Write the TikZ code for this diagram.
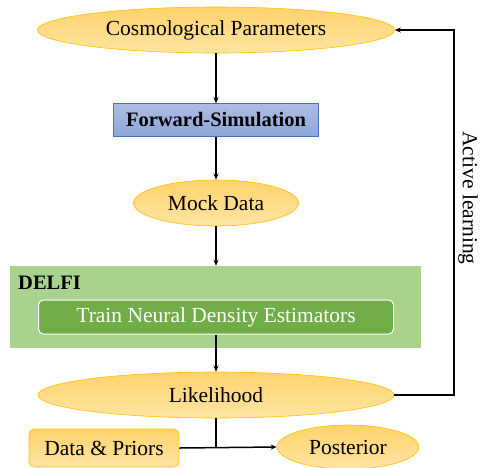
\documentclass[tikz,border=0pt]{standalone}
\usepackage{fontspec}
\setmainfont{Liberation Serif}
\usetikzlibrary{shapes.geometric,arrows.meta}

\definecolor{goldtop}{HTML}{FFD36B}
\definecolor{goldbot}{HTML}{FFE4A3}
\definecolor{goldline}{HTML}{FFC000}
\definecolor{bluetop}{HTML}{ADBCE3}
\definecolor{bluebot}{HTML}{8EA5D9}
\definecolor{blueline}{HTML}{4472C4}
\definecolor{lightgreen}{HTML}{AAD28F}
\definecolor{darkgreen}{HTML}{70AD47}

\tikzset{
  goldell/.style={ellipse, draw=goldline, line width=0.6pt, top color=goldtop, bottom color=goldbot, inner sep=0pt},
  goldbox/.style={rectangle, rounded corners=5pt, draw=goldline, line width=0.6pt, top color=goldtop, bottom color=goldbot, inner sep=0pt},
  flow/.style={-{Stealth[length=6pt,width=5pt]}, line width=1.5pt}
}

\begin{document}
\begin{tikzpicture}[x=1pt, y=-1pt, font=\fontsize{21.5}{25}\selectfont]
        \useasboundingbox (0,0) rectangle (482,467);

        % Draw boxes
        \node[goldell, minimum width=357pt, minimum height=46pt] (cosmo) at (216,30) {Cosmological Parameters};
        \node[rectangle, draw=blueline, line width=0.6pt, top color=bluetop, bottom color=bluebot, minimum width=205pt, minimum height=33pt, inner sep=0pt, font=\fontsize{20.5}{24}\selectfont\bfseries] (fwd) at (216,120) {Forward-Simulation};
        \node[goldell, minimum width=165pt, minimum height=46pt] (mock) at (216,203) {Mock Data};
        \node[rectangle, fill=lightgreen, minimum width=411pt, minimum height=82pt, inner sep=0pt] (delfi) at (215.5,307) {};
        \node[anchor=west, font=\fontsize{20.5}{24}\selectfont\bfseries, inner sep=0pt] (delfilabel) at (18,283) {DELFI};
        \node[rectangle, rounded corners=5pt, draw=white, line width=1pt, fill=darkgreen, text=white, minimum width=355pt, minimum height=34pt, inner sep=0pt] (train) at (216,317) {Train Neural Density Estimators};
        \node[goldell, minimum width=356pt, minimum height=46pt] (like) at (216,395) {Likelihood};
        \node[goldbox, minimum width=150pt, minimum height=38pt] (data) at (104,448) {Data \& Priors};
        \node[goldell, minimum width=142pt, minimum height=44pt] (post) at (348,447) {Posterior};
        \coordinate (join) at (216,447);
        \coordinate (loopdown) at (454,395);
        \coordinate (loopup) at (454,30);
        \node[rotate=-90, inner sep=0pt] (active) at (468,198) {Active learning};

        % Draw arrows
        \draw[flow] (cosmo.south) -- (fwd.north);
        \draw[flow] (fwd.south) -- (mock.north);
        \draw[flow] (mock.south) -- (delfi.north -| mock.south);
        \draw[flow] (train.south) -- (like.north);
        \draw[line width=1.5pt] (like.south) -- (join);
        \draw[flow] (data.east) -- (post.west);
        \draw[flow] (like.east) -- (loopdown) -- (loopup) -- (cosmo.east);
    \end{tikzpicture}
\end{document}
